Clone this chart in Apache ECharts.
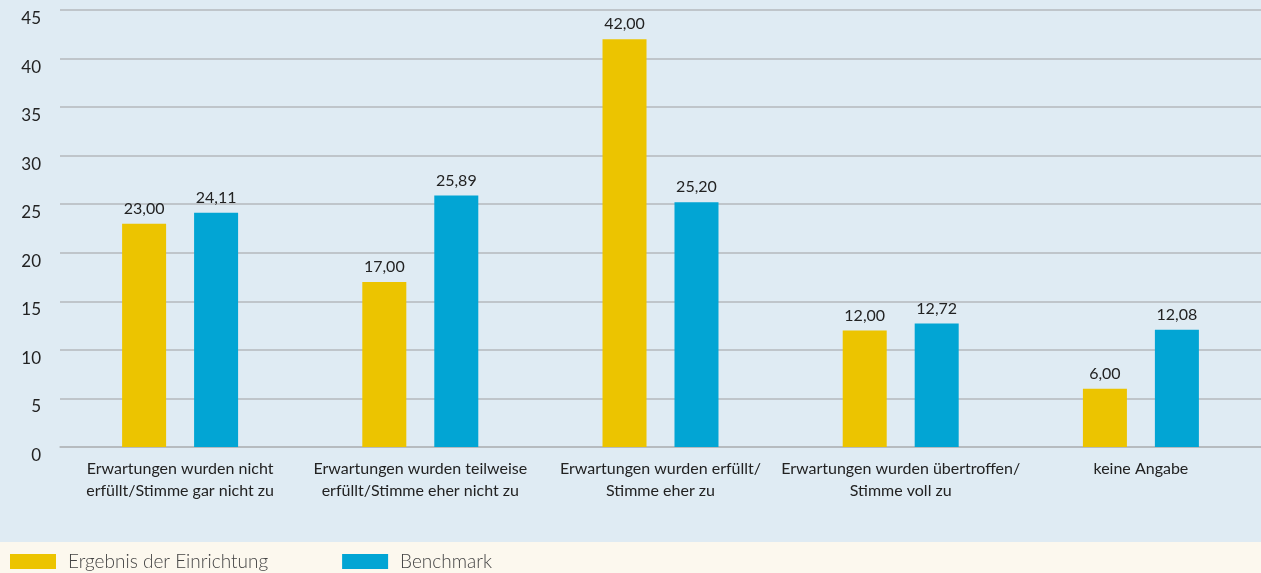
<!DOCTYPE html>
<html lang="de" style="height: 100%">
<head>
  <meta charset="utf-8">
</head>
<body style="height: 100%; margin: 0">
  <div id="container" style="width: 1261px; height: 573px"></div>

  <script type="text/javascript" src="https://cdn.jsdelivr.net/npm/echarts@6/dist/echarts.min.js"></script>

  <script type="text/javascript">
    var categories = [
      'Erwartungen wurden nicht\nerfüllt/Stimme gar nicht zu',
      'Erwartungen wurden teilweise\nerfüllt/Stimme eher nicht zu',
      'Erwartungen wurden erfüllt/\nStimme eher zu',
      'Erwartungen wurden übertroffen/\nStimme voll zu',
      'keine Angabe'
    ];
    var ergebnis = [23.00, 17.00, 42.00, 12.00, 6.00];
    var benchmark = [24.11, 25.89, 25.20, 12.72, 12.08];

    var dom = document.getElementById('container');
    var myChart = echarts.init(dom, null, { renderer: 'canvas' });

    function fmt(p) {
      return p.value.toFixed(2).replace('.', ',');
    }

    var option = {
      backgroundColor: '#dfebf3',
      textStyle: { fontFamily: 'Lato' },
      graphic: [{
        type: 'rect',
        left: 0,
        top: 542,
        shape: { width: 1261, height: 31 },
        style: { fill: '#fcf8ee' },
        z: -1
      }],
      grid: { left: 60, right: 0, top: 10, bottom: 126 },
      legend: {
        left: 10,
        top: 552,
        padding: 0,
        itemWidth: 46,
        itemHeight: 15,
        itemGap: 74,
        icon: 'rect',
        textStyle: { fontFamily: 'Lato', fontWeight: 300, fontSize: 19, color: '#444', padding: [0, 0, 0, 7] },
        data: ['Ergebnis der Einrichtung', 'Benchmark']
      },
      xAxis: {
        type: 'category',
        data: categories,
        axisTick: { show: false },
        axisLine: { lineStyle: { color: '#b4b8bc', width: 1.5 } },
        axisLabel: {
          fontFamily: 'Lato',
          fontSize: 16,
          color: '#222',
          lineHeight: 22,
          margin: 11,
          interval: 0
        }
      },
      yAxis: {
        type: 'value',
        min: 0,
        max: 45,
        interval: 5,
        axisLine: { show: false },
        axisTick: { show: false },
        splitLine: { lineStyle: { color: '#b4b8bc', width: 1.5 } },
        axisLabel: { fontFamily: 'Lato', fontSize: 17, color: '#222', margin: 19, verticalAlign: 'top' }
      },
      series: [
        {
          name: 'Ergebnis der Einrichtung',
          type: 'bar',
          data: ergebnis,
          barWidth: 44,
          barGap: '63.6%',
          itemStyle: { color: '#ecc400' },
          label: { show: true, position: 'top', distance: 7, fontFamily: 'Lato', fontSize: 16, color: '#222', formatter: fmt }
        },
        {
          name: 'Benchmark',
          type: 'bar',
          data: benchmark,
          barWidth: 44,
          itemStyle: { color: '#02a5d4' },
          label: { show: true, position: 'top', distance: 7, fontFamily: 'Lato', fontSize: 16, color: '#222', formatter: fmt }
        }
      ]
    };

    myChart.setOption(option);
    window.addEventListener('resize', myChart.resize);
  </script>
</body>
</html>
